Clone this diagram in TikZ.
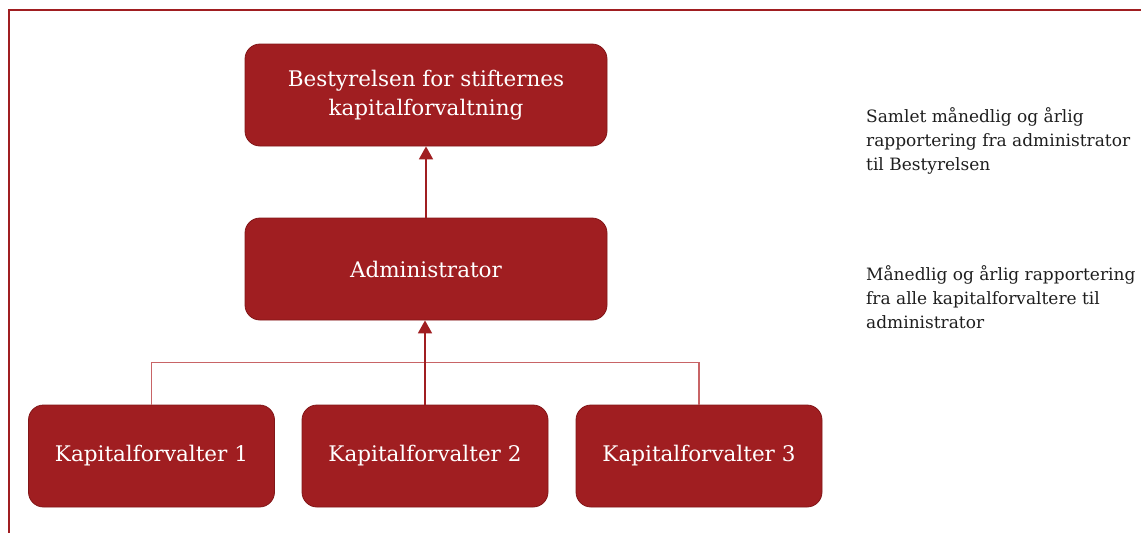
\documentclass[tikz,border=0pt]{standalone}
\usepackage{fontspec}
\setmainfont{DejaVu Serif}
\usepackage{tikz}
\usetikzlibrary{positioning, arrows.meta}
\definecolor{orgRed}{RGB}{160, 30, 33}
\definecolor{orgEdge}{RGB}{130, 22, 24}
\definecolor{orgLine}{RGB}{200, 100, 102}
\definecolor{orgText}{RGB}{30, 30, 30}
\tikzset{
    unitbox/.style={
        rectangle,
        rounded corners=15pt,
        draw=orgEdge,
        line width=0.8pt,
        fill=orgRed,
        text=white,
        align=center,
        font=\fontsize{21.5}{29}\selectfont,
        minimum width=246pt,
        minimum height=102pt
    },
    topbox/.style={
        unitbox,
        minimum width=362pt
    },
    report/.style={
        ->,
        >={Triangle[length=13pt, width=14pt]},
        line width=1.8pt,
        color=orgRed
    },
    bus/.style={
        line width=1.6pt,
        color=orgLine
    },
    note/.style={
        anchor=base west,
        align=left,
        text=orgText,
        inner sep=0pt,
        font=\fontsize{17}{24}\selectfont
    }
}
\begin{document}
\begin{tikzpicture}[x=1pt, y=-1pt]
  \useasboundingbox (0,0) rectangle (1141,533);

  % Frame
  \draw[orgRed, line width=2pt] (1141,10) -- (9,10) -- (9,533);

  % Boxes
  \node[topbox] (board) at (426,95) {Bestyrelsen for stifternes\\kapitalforvaltning};
  \node[topbox] (admin) at (426,269) {Administrator};
  \node[unitbox] (k1) at (151.5,456) {Kapitalforvalter 1};
  \node[unitbox] (k2) at (425,456) {Kapitalforvalter 2};
  \node[unitbox] (k3) at (699,456) {Kapitalforvalter 3};

  % Connectors
  \draw[bus] (k1.north) -- ++(0,-42) -| (k3.north);
  \draw[report] (k2.north) -- (k2.north |- admin.south);
  \draw[report] (admin.north) -- (board.south);

  % Notes (anchored on the last line)
  \node[note] (note1) at (866,170) {Samlet månedlig og årlig\\rapportering fra administrator\\til Bestyrelsen};
  \node[note] (note2) at (866,328) {Månedlig og årlig rapportering\\fra alle kapitalforvaltere til\\administrator};
\end{tikzpicture}
\end{document}
